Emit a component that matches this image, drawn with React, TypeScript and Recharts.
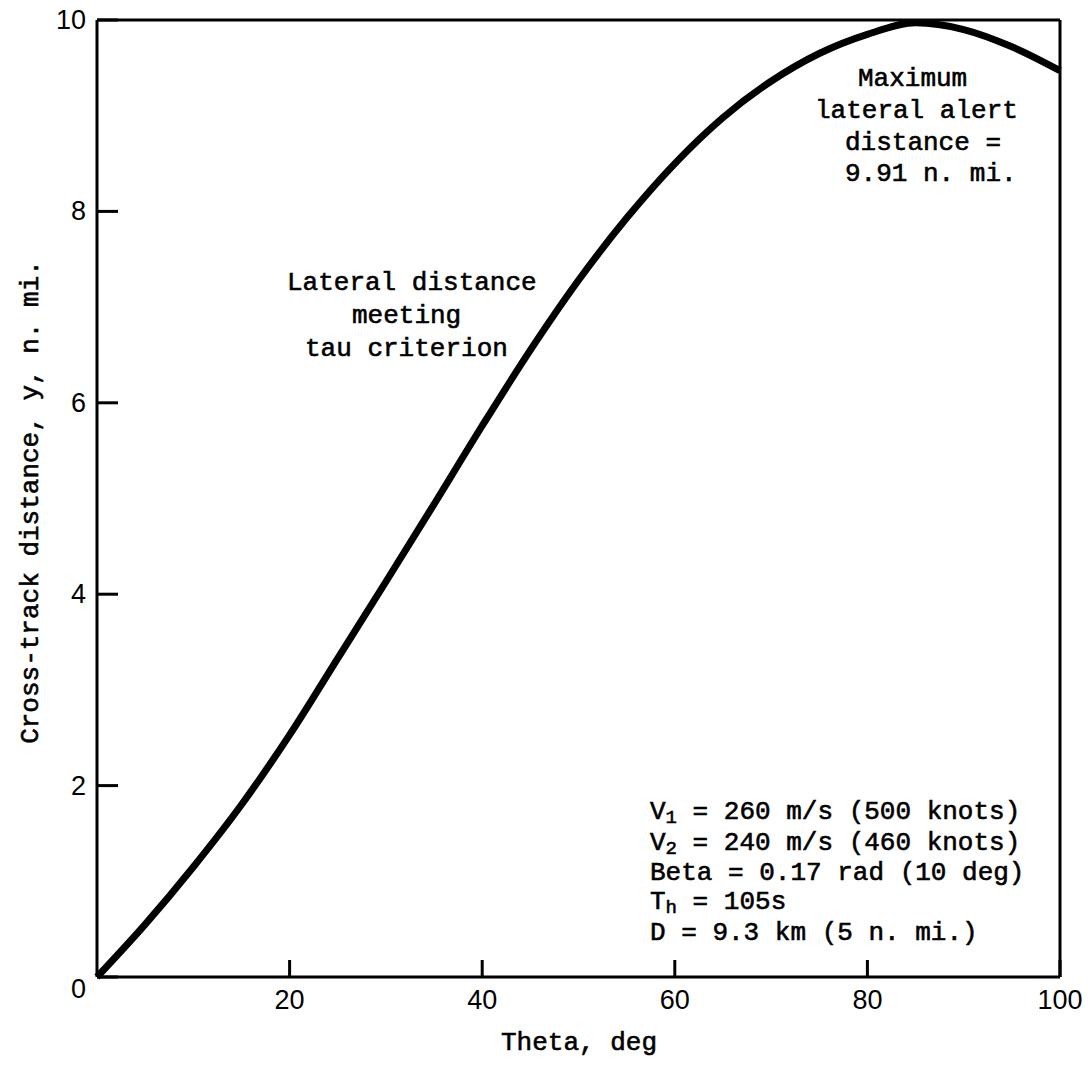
import React from 'react';
import { LineChart, Line, XAxis, YAxis, ReferenceLine } from 'recharts';

// theta (deg) vs cross-track distance (n. mi.)
const theta = [0, 5, 10, 15, 20, 25, 30, 35, 40, 45, 50, 55, 60, 65, 70, 75, 80, 85, 90, 95, 100];
const crossTrack = [0, 0.55, 1.15, 1.8, 2.53, 3.33, 4.13, 4.94, 5.76, 6.55, 7.28, 7.93, 8.5, 8.98, 9.36, 9.65, 9.85, 9.97, 9.9, 9.72, 9.47];

const xTicks = [20, 40, 60, 80, 100];
const yTicks = [0, 2, 4, 6, 8, 10];

const data = theta.map((t, i) => ({ theta: t, y: crossTrack[i] }));

const mono = '"Liberation Mono", "DejaVu Sans Mono", monospace';
const sans = '"Liberation Sans", Arial, sans-serif';

function YTick(props: any) {
    const { x, y, payload } = props;
    return (
        <text x={x} y={y + (payload.value === 0 ? 12 : 0)} textAnchor="end" dominantBaseline="central"
            fontFamily={sans} fontSize={27} fill="#000">
            {payload.value}
        </text>
    );
}

export default function App() {
    return (
        <div style={{ position: 'absolute', left: 0, top: 0, width: 1088, height: 1065, background: '#fff' }}>
            <LineChart width={1088} height={1065} data={data} margin={{ top: 20, right: 28, bottom: 0, left: 0 }}>
                <XAxis dataKey="theta" type="number" domain={[0, 100]} ticks={xTicks} height={88}
                    stroke="#000" axisLine={{ strokeWidth: 3 }} tickLine={{ strokeWidth: 3 }}
                    tickSize={-17} tickMargin={30}
                    tick={{ fontFamily: sans, fontSize: 27, fill: '#000' }} />
                <YAxis type="number" domain={[0, 10]} ticks={yTicks} width={97}
                    stroke="#000" axisLine={{ strokeWidth: 3 }} tickLine={{ strokeWidth: 3 }}
                    tickSize={-21} tickMargin={32} tick={<YTick />} />
                <ReferenceLine y={10} stroke="#000" strokeWidth={3} />
                <ReferenceLine x={100} stroke="#000" strokeWidth={3} />
                <Line type="monotone" dataKey="y" stroke="#000" strokeWidth={7} dot={false} isAnimationActive={false} />
            </LineChart>
            <svg width={1088} height={1065} style={{ position: 'absolute', left: 0, top: 0, pointerEvents: 'none' }}
                fontFamily={mono} fontSize={26} fill="#000" stroke="#000" strokeWidth={0.6}>
                <text x={287} y={290}>Lateral distance</text>
                <text x={352} y={323}>meeting</text>
                <text x={305} y={356}>tau criterion</text>

                <text x={858} y={86}>Maximum</text>
                <text x={815} y={118}>lateral alert</text>
                <text x={845} y={150}>distance =</text>
                <text x={845} y={181}>9.91 n. mi.</text>

                <text x={650} y={819}>V<tspan dy={4} fontSize={19}>1</tspan><tspan dy={-4}> = 260 m/s (500 knots)</tspan></text>
                <text x={650} y={850}>V<tspan dy={4} fontSize={19}>2</tspan><tspan dy={-4}> = 240 m/s (460 knots)</tspan></text>
                <text x={650} y={880}>Beta = 0.17 rad (10 deg)</text>
                <text x={650} y={909}>T<tspan dy={4} fontSize={19}>h</tspan><tspan dy={-4}> = 105s</tspan></text>
                <text x={650} y={940}>D = 9.3 km (5 n. mi.)</text>

                <text x={579} y={1050} textAnchor="middle">Theta, deg</text>
                <text x={0} y={0} textAnchor="middle" transform="translate(38 502) rotate(-90)">Cross-track distance, y, n. mi.</text>
            </svg>
        </div>
    );
}
